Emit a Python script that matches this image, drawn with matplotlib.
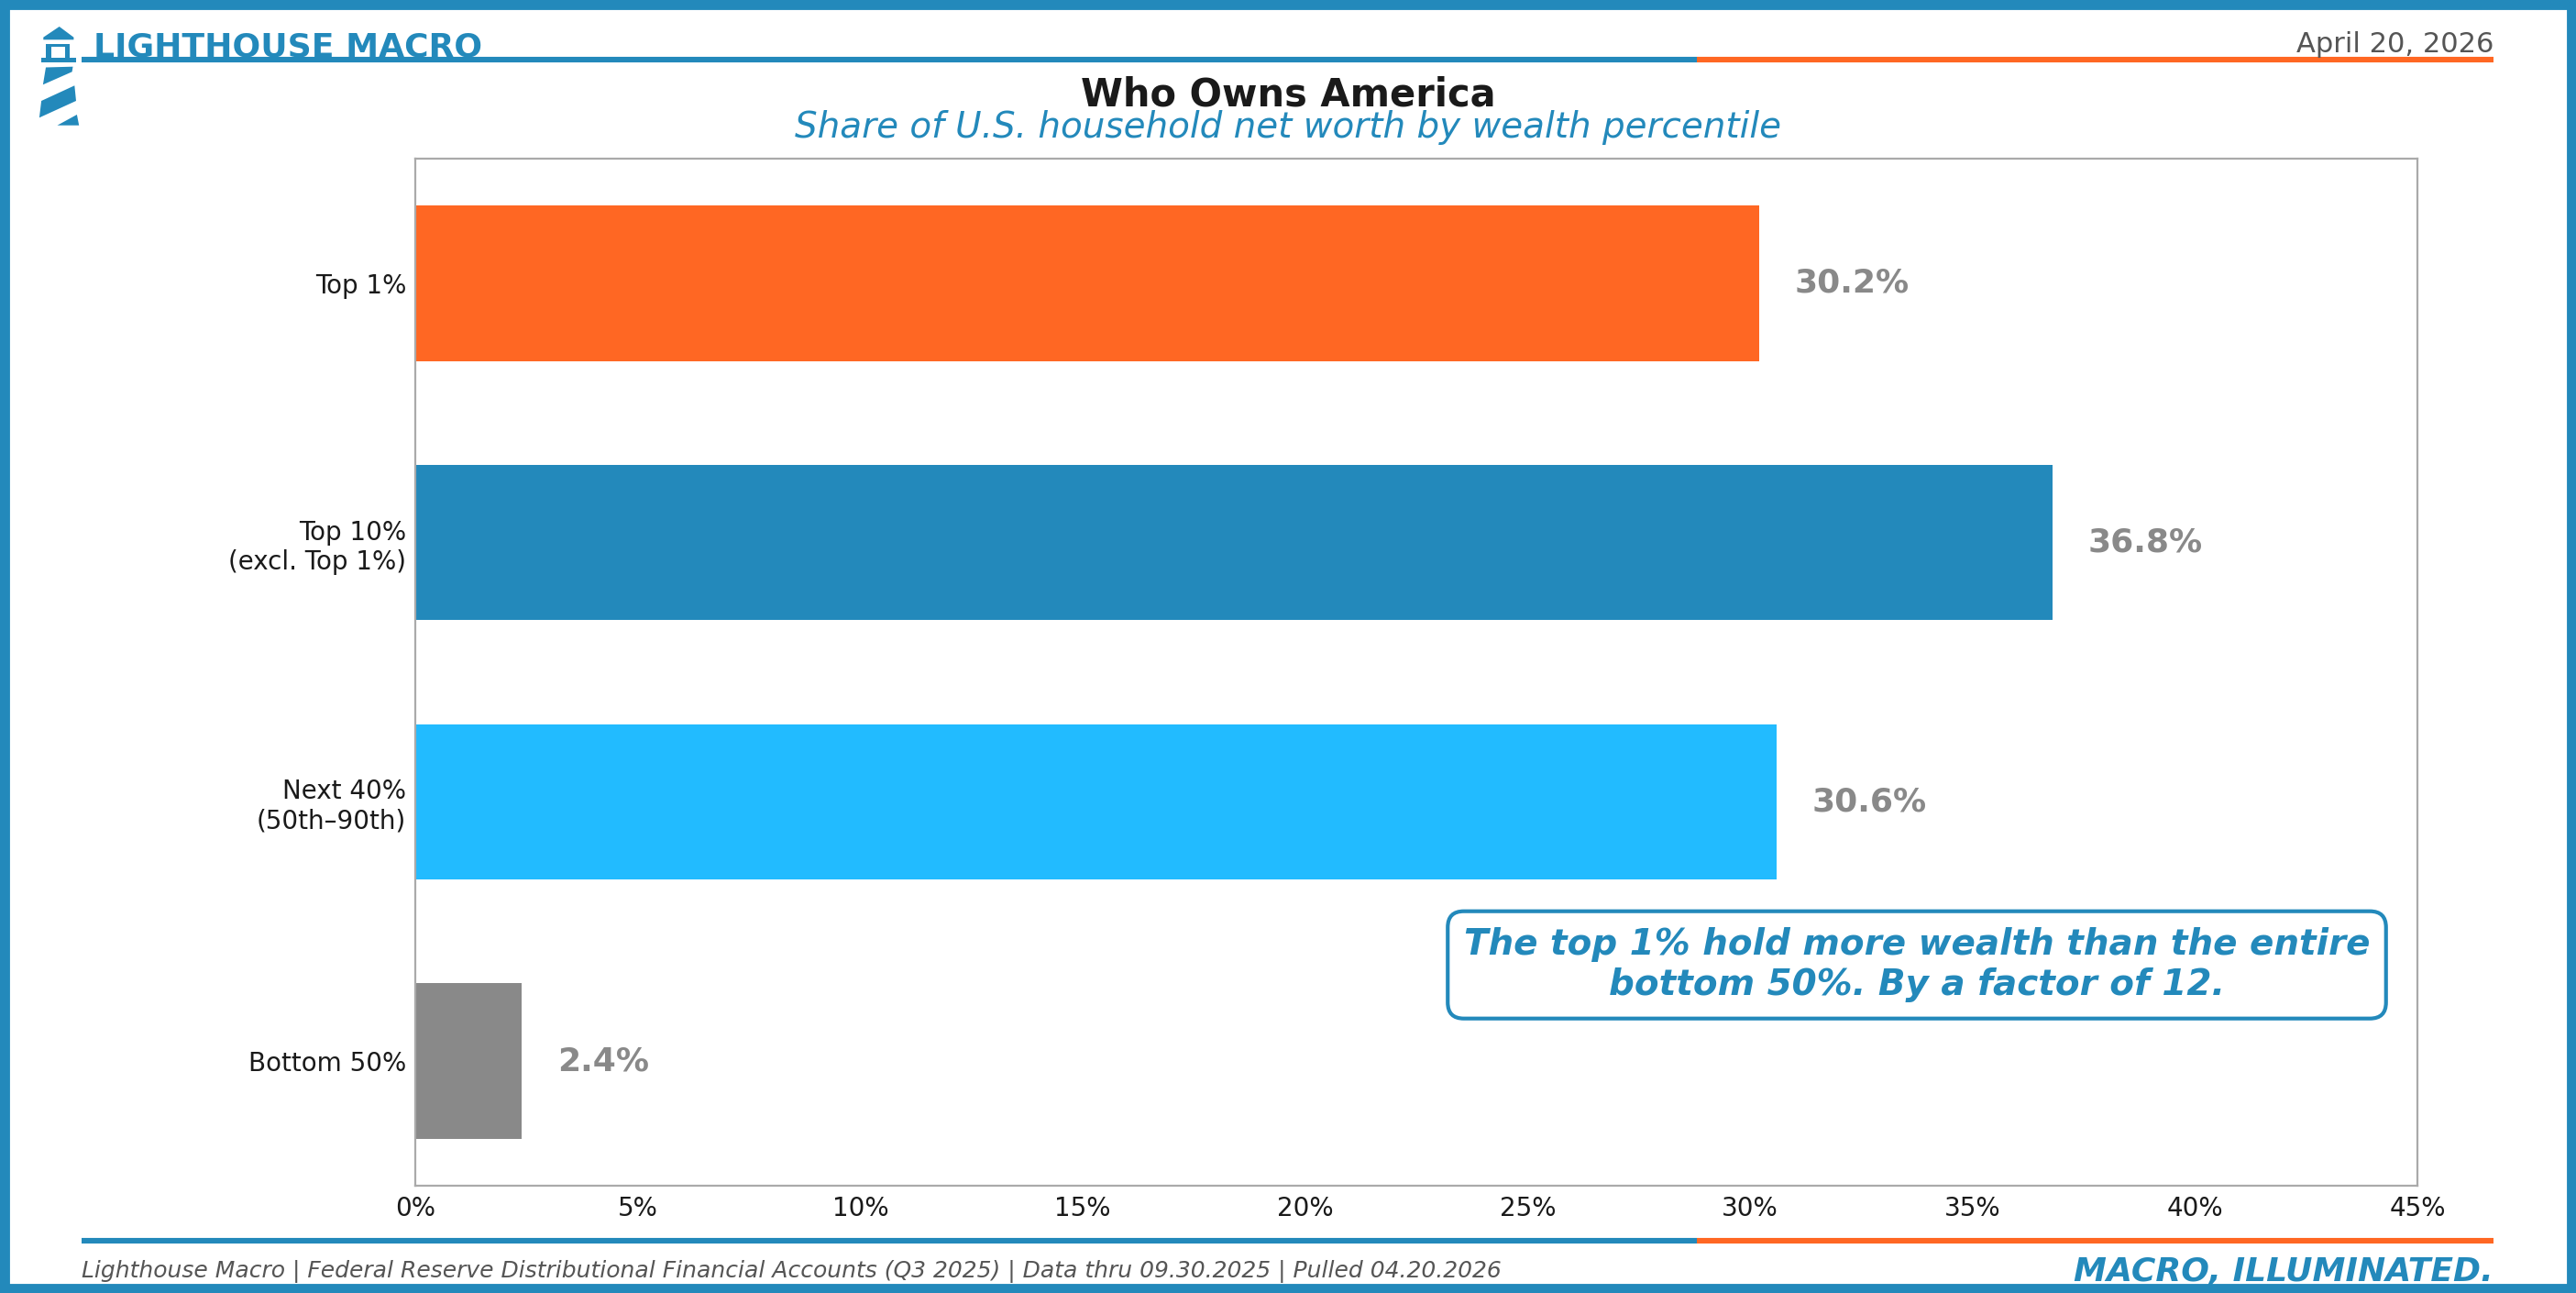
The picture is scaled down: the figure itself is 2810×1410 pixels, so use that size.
import matplotlib
matplotlib.use("Agg")
import matplotlib.pyplot as plt
from matplotlib.patches import Polygon, Rectangle
from matplotlib.ticker import FuncFormatter

# ---- data ----
categories = ["Bottom 50%", "Next 40%\n(50th\u201390th)", "Top 10%\n(excl. Top 1%)", "Top 1%"]
shares = [2.4, 30.6, 36.8, 30.2]
bar_colors = ["#898989", "#22BBFF", "#2389BB", "#FF6723"]
x_ticks = [0, 5, 10, 15, 20, 25, 30, 35, 40, 45]

BLUE = "#2389BB"
ORANGE = "#FF6723"
W, H = 2810, 1410

plt.rcParams["font.family"] = ["DejaVu Sans"]
fig = plt.figure(figsize=(W / 200, H / 200), dpi=200, facecolor="white")

# ---- main axes ----
ax = fig.add_axes([453 / W, 1 - 1293 / H, (2637 - 453) / W, (1293 - 173) / H])
ypos = list(range(len(categories)))
ax.barh(ypos, shares, height=0.6, color=bar_colors)
ax.set_yticks(ypos)
ax.set_yticklabels(categories, fontsize=10, color="#1a1a1a")
ax.set_xlim(0, 45)
ax.set_xticks(x_ticks)
ax.xaxis.set_major_formatter(FuncFormatter(lambda v, p: f"{v:.0f}%"))
ax.tick_params(axis="both", length=0, labelsize=10, labelcolor="#1a1a1a")
ax.tick_params(axis="x", pad=4)
ax.tick_params(axis="y", pad=3.5)
for s in ax.spines.values():
    s.set_color("#AAAAAA")
    s.set_linewidth(0.8)
for y, v in zip(ypos, shares):
    ax.text(v + 0.8, y, f"{v:.1f}%", ha="left", va="center", fontsize=13,
            fontweight="bold", color="#898989")

ax.text(0.75, 0.215,
        "The top 1% hold more wealth than the entire\nbottom 50%. By a factor of 12.",
        transform=ax.transAxes, ha="center", va="center", fontsize=14,
        fontweight="bold", fontstyle="italic", color=BLUE, linespacing=1.2,
        bbox=dict(boxstyle="round,pad=0.45", fc="white", ec=BLUE, lw=1.5))

# ---- overlay for decorations (pixel coordinates) ----
ov = fig.add_axes([0, 0, 1, 1], zorder=-1)
ov.set_xlim(0, W)
ov.set_ylim(H, 0)
ov.axis("off")

# header / footer rules
for yy in (65, 1353):
    ov.plot([89, 1851], [yy, yy], color=BLUE, lw=2.2, solid_capstyle="butt")
    ov.plot([1851, 2720], [yy, yy], color=ORANGE, lw=2.2, solid_capstyle="butt")

# lighthouse logo
logo_shapes = [
    [(64.7, 29), (80.4, 40.7), (80.4, 43.3), (47.3, 43.3), (47.3, 40.7)],
    [(50, 48), (76, 48), (76, 51), (50, 51)],
    [(50, 48), (55.5, 48), (55.5, 64), (50, 64)],
    [(70.5, 48), (76, 48), (76, 64), (70.5, 64)],
    [(44.6, 63.3), (83, 63.3), (83, 68.3), (44.6, 68.3)],
    [(50, 73.5), (79.5, 72.7), (78.6, 78.3), (46.9, 92.3)],
    [(81.3, 93.3), (83, 110), (42.9, 128.3), (45.1, 110)],
    [(83.9, 125), (86.2, 136.7), (62.5, 136.7)],
]
for pts in logo_shapes:
    ov.add_patch(Polygon(pts, closed=True, fc=BLUE, ec="none"))

# frame
fig.add_artist(Rectangle((0, 0), 1, 1, transform=fig.transFigure, fill=False,
                         ec=BLUE, lw=7.5, clip_on=False))

# ---- texts ----
fig.text(102 / W, 1 - 61 / H, "LIGHTHOUSE MACRO", ha="left", va="baseline",
         fontsize=13, fontweight="bold", color=BLUE)
fig.text(2720 / W, 1 - 57 / H, "April 20, 2026", ha="right", va="baseline",
         fontsize=11, color="#555555")
fig.text(0.5, 1 - 115 / H, "Who Owns America", ha="center", va="baseline",
         fontsize=15, fontweight="bold", color="#1a1a1a")
fig.text(0.5, 1 - 150.5 / H, "Share of U.S. household net worth by wealth percentile",
         ha="center", va="baseline", fontsize=14, fontstyle="italic", color=BLUE)
fig.text(89 / W, 1 - 1393 / H,
         "Lighthouse Macro | Federal Reserve Distributional Financial Accounts (Q3 2025) | Data thru 09.30.2025 | Pulled 04.20.2026",
         ha="left", va="baseline", fontsize=9, fontstyle="italic", color="#555555")
fig.text(2720 / W, 1 - 1396.5 / H, "MACRO, ILLUMINATED.", ha="right", va="baseline",
         fontsize=13, fontweight="bold", fontstyle="italic", color=BLUE)

fig.savefig("out.png", dpi=200, facecolor="white")
